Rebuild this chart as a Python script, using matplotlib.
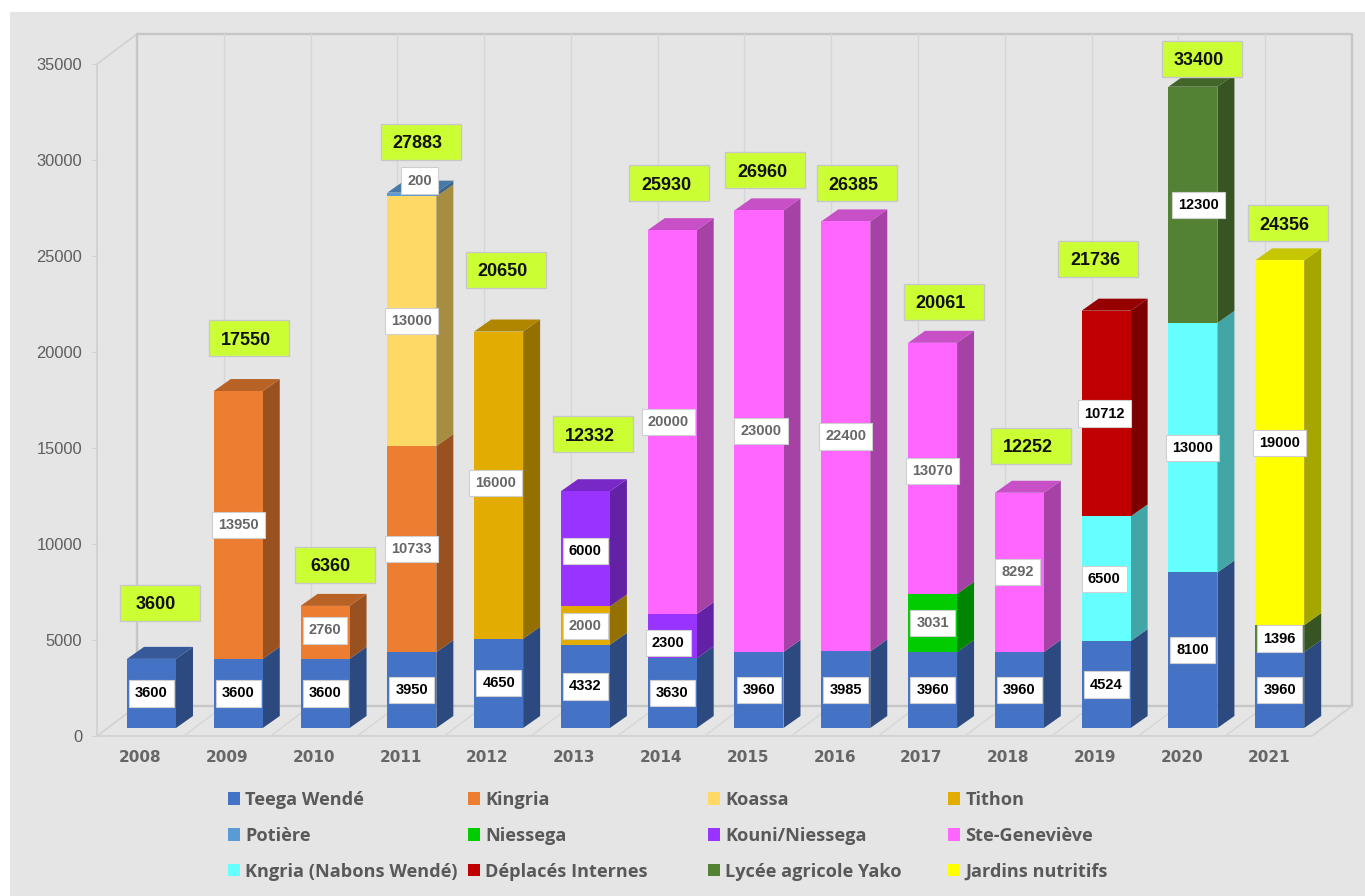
import numpy as np
import matplotlib
matplotlib.use("Agg")
import matplotlib.pyplot as plt
from matplotlib.patches import Rectangle

years = [2008, 2009, 2010, 2011, 2012, 2013, 2014, 2015, 2016, 2017, 2018, 2019, 2020, 2021]

# values per site, one entry per year
teega = [3600, 3600, 3600, 3950, 4650, 4332, 3630, 3960, 3985, 3960, 3960, 4524, 8100, 3960]
kingria = [0, 13950, 2760, 10733, 0, 0, 0, 0, 0, 0, 0, 0, 0, 0]
koassa = [0, 0, 0, 13000, 0, 0, 0, 0, 0, 0, 0, 0, 0, 0]
tithon = [0, 0, 0, 0, 16000, 2000, 0, 0, 0, 0, 0, 0, 0, 0]
potiere = [0, 0, 0, 200, 0, 0, 0, 0, 0, 0, 0, 0, 0, 0]
niessega = [0, 0, 0, 0, 0, 0, 0, 0, 0, 3031, 0, 0, 0, 0]
kouni = [0, 0, 0, 0, 0, 6000, 2300, 0, 0, 0, 0, 0, 0, 0]
genevieve = [0, 0, 0, 0, 0, 0, 20000, 23000, 22400, 13070, 8292, 0, 0, 0]
nabons = [0, 0, 0, 0, 0, 0, 0, 0, 0, 0, 0, 6500, 13000, 0]
deplaces = [0, 0, 0, 0, 0, 0, 0, 0, 0, 0, 0, 10712, 0, 0]
lycee = [0, 0, 0, 0, 0, 0, 0, 0, 0, 0, 0, 0, 12300, 1396]
jardins = [0, 0, 0, 0, 0, 0, 0, 0, 0, 0, 0, 0, 0, 19000]
totals = [3600, 17550, 6360, 27883, 20650, 12332, 25930, 26960, 26385, 20061, 12252, 21736, 33400, 24356]

names = ["Teega Wendé", "Kingria", "Koassa", "Tithon", "Potière", "Niessega", "Kouni/Niessega",
         "Ste-Geneviève", "Kngria (Nabons Wendé)", "Déplacés Internes", "Lycée agricole Yako",
         "Jardins nutritifs"]
series = [teega, kingria, koassa, tithon, potiere, niessega, kouni, genevieve, nabons, deplaces,
          lycee, jardins]
colors = ["#4472C4", "#ED7D31", "#FFD966", "#E2AC00", "#5B9BD5", "#00CC00", "#9933FF", "#FF66FF",
          "#66FFFF", "#C00000", "#548235", "#FFFF00"]
gray_labels = ["Kingria", "Koassa", "Tithon", "Potière", "Niessega", "Ste-Geneviève"]

# layout, in pixels of the picture
total_dx = [9, 11, 10, 9, 7, 7.5, -3, 6, 11, 11, 11.5, -8, 9, 8]
total_dy = [56, 53, 41, 51, 62, 57, 47, 40, 38, 41, 47, 52, 28, 37]
label_nudge = {(2011, "Potière"): (8, 14), (2012, "Tithon"): (-3, 2), (2014, "Ste-Geneviève"): (-4, 0),
               (2014, "Kouni/Niessega"): (-4, -7), (2015, "Ste-Geneviève"): (2, 0),
               (2018, "Ste-Geneviève"): (-2, 0), (2019, "Kngria (Nabons Wendé)"): (-2, 0),
               (2019, "Déplacés Internes"): (-2, 0), (2020, "Lycée agricole Yako"): (6, 0),
               (2017, "Ste-Geneviève"): (0, -3), (2010, "Kingria"): (0, 2), (2013, "Kouni/Niessega"): (0, -2)}

PX_X = 1 / 86.8
PX_Y = 35000 / 672


def shade(color, k):
    r, g, b = matplotlib.colors.to_rgb(color)
    return (r * k, g * k, b * k)


fig = plt.figure(figsize=(13.65, 8.96), dpi=100)
fig.patches.append(Rectangle((10 / 1365, 0), 1355 / 1365, 884 / 896, transform=fig.transFigure,
                             facecolor="#E5E5E5", edgecolor="none", figure=fig, zorder=-1))

ax = fig.add_axes([97 / 1365, 1 - 736 / 896, 1215 / 1365, 672 / 896])
ax.patch.set_visible(False)
ax.set_xlim(-0.5, 13.5)
ax.set_ylim(0, 35000)
for s in ax.spines.values():
    s.set_visible(False)

x = np.arange(len(years))

# chart box: back wall, floor and dividers
wall_x = 40 * PX_X
wall_y = 30 * PX_Y
line = dict(color="#D2D2D2", lw=1.3, clip_on=False, zorder=1, solid_capstyle="butt")
back = dict(color="#C6C6C6", lw=1.7, clip_on=False, zorder=1, solid_capstyle="butt")
ax.plot([-0.5, -0.5, -0.5 + wall_x], [0, 35000, 35000 + wall_y], **line)
ax.plot([-0.5 + wall_x, -0.5 + wall_x, 13.5 + wall_x, 13.5 + wall_x, -0.5 + wall_x],
        [wall_y, 35000 + wall_y, 35000 + wall_y, wall_y, wall_y], **back)
ax.plot([-0.5, 13.5, 13.5 + wall_x], [0, 0, wall_y], **line)
ax.plot([-0.5, -0.5 + wall_x], [0, wall_y], **line)
for k in x[1:]:
    ax.plot([k - 0.5 + wall_x] * 2, [wall_y, 35000 + wall_y], color="#D6D6D6", lw=1, clip_on=False, zorder=1)
    ax.plot([k - 0.5, k - 0.5 + wall_x], [0, wall_y], color="#D6D6D6", lw=1, clip_on=False, zorder=1)

# 3d look of the bars
off_x = 11.1 * PX_X
floor = 8 * PX_Y
bar_w = 49 * PX_X
depth_x = 17 * PX_X
depth_y = 12 * PX_Y

base = np.zeros(len(years))
top_color = [None] * len(years)
for name, vals, c in zip(names, series, colors):
    vals = np.array(vals)
    ax.bar(x + off_x, vals, bar_w, bottom=base + floor, color=c, zorder=3, clip_on=False)
    for i in x:
        if vals[i] > 0:
            xr = x[i] + off_x + bar_w / 2
            y0 = base[i] + floor
            y1 = y0 + vals[i]
            ax.fill([xr, xr + depth_x, xr + depth_x, xr], [y0, y0 + depth_y, y1 + depth_y, y1],
                    color=shade(c, 0.65), lw=0, zorder=2, clip_on=False)
            top_color[i] = c
    base = base + vals

for i in x:
    xl = x[i] + off_x - bar_w / 2
    xr = xl + bar_w
    y1 = base[i] + floor
    ax.fill([xl, xr, xr + depth_x, xl + depth_x], [y1, y1, y1 + depth_y, y1 + depth_y],
            color=shade(top_color[i], 0.78), lw=0, zorder=2, clip_on=False)

# white value labels
base = np.zeros(len(years))
for name, vals in zip(names, series):
    for i in x:
        if vals[i] > 0:
            dx, dy = label_nudge.get((years[i], name), (0, 0))
            ax.text(x[i] + off_x + dx * PX_X, base[i] + floor + vals[i] / 2 + dy * PX_Y, str(vals[i]),
                    ha="center", va="center", fontsize=10.5, fontweight="bold", family="Liberation Sans",
                    color="#666666" if name in gray_labels else "#000000", zorder=6,
                    bbox=dict(boxstyle="square,pad=0.42", facecolor="white", edgecolor="#CFCFCF", lw=0.8))
    base = base + np.array(vals)

# green total labels
box_w = 80 * PX_X
box_h = 36 * PX_Y
for i in x:
    cx = x[i] + off_x + total_dx[i] * PX_X
    cy = totals[i] + floor + total_dy[i] * PX_Y
    ax.add_patch(Rectangle((cx - box_w / 2, cy - box_h / 2), box_w, box_h, facecolor="#CCFF33",
                           edgecolor="#C8C8C8", lw=1, zorder=7, clip_on=False))
    shift = -3 if totals[i] >= 10000 else -5
    ax.text(cx + shift * PX_X, cy - 2 * PX_Y, str(totals[i]), ha="center", va="center", fontsize=13,
            fontweight="bold", family="Liberation Sans", color="#111111", zorder=8)

ax.set_yticks(np.arange(0, 35001, 5000))
ax.set_xticks(x)
ax.set_xticklabels(years)
ax.tick_params(axis="y", length=3.6, width=0.8, color="#D0D0D0", pad=7, labelsize=11.9, labelcolor="#5E5E5E")
ax.tick_params(axis="x", length=0, pad=10, labelcolor="#666666")
for t in ax.get_yticklabels():
    t.set_family("Liberation Sans")
for t in ax.get_xticklabels():
    t.set_family("DejaVu Sans")
    t.set_fontweight("bold")
    t.set_fontsize(11)

# one legend per column, columns are evenly spaced in the original
for col in range(4):
    idx = [col, col + 4, col + 8]
    handles = [Rectangle((0, 0), 1, 1, facecolor=colors[j]) for j in idx]
    fig.legend(handles, [names[j] for j in idx], loc="upper left",
               bbox_to_anchor=((228 + 240 * col) / 1365, 1 - 791 / 896), frameon=False,
               borderpad=0, borderaxespad=0, handlelength=0.67, handleheight=0.67, handletextpad=0.28,
               labelspacing=0.98, labelcolor="#595959",
               prop=dict(family="Open Sans", weight="bold", size=13.1))

fig.savefig("out.png", dpi=100)
